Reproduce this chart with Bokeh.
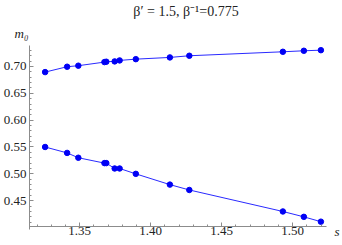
from bokeh.plotting import figure
from bokeh.models import FixedTicker, Range1d, PrintfTickFormatter, Title
from bokeh.core.properties import value
from bokeh.embed import file_html
from bokeh.resources import INLINE

# ---- data ----
s_values = [1.3256, 1.3411, 1.3490, 1.3674, 1.3687, 1.3746, 1.3781,
            1.3895, 1.4135, 1.4272, 1.4931, 1.5079, 1.5199]
m0_upper = [0.6894, 0.6994, 0.7013, 0.7080, 0.7087, 0.7093, 0.7111,
            0.7135, 0.7167, 0.7198, 0.7272, 0.7291, 0.7302]
m0_lower = [0.550, 0.539, 0.530, 0.520, 0.520, 0.510, 0.510,
            0.500, 0.480, 0.470, 0.430, 0.420, 0.411]

x_major = [1.35, 1.40, 1.45, 1.50]
x_minor = [1.32, 1.33, 1.34, 1.36, 1.37, 1.38, 1.39, 1.41, 1.42, 1.43,
           1.44, 1.46, 1.47, 1.48, 1.49, 1.51, 1.52]
y_major = [0.45, 0.50, 0.55, 0.60, 0.65, 0.70]
y_minor = [0.41, 0.42, 0.43, 0.44, 0.46, 0.47, 0.48, 0.49, 0.51, 0.52,
           0.53, 0.54, 0.56, 0.57, 0.58, 0.59, 0.61, 0.62, 0.63, 0.64,
           0.66, 0.67, 0.68, 0.69, 0.71, 0.72, 0.73, 0.74]

title_text = "β′ = 1.5, β⁻¹=0.775"
y_label = "m₀"
x_label = "s"

# ---- layout (pixel geometry only) ----
W, H = 342, 245
BL, BR, BT, BB = 26, 0, 44, 0
XS = 1433.0            # px per unit of s
YS = 540.0             # px per unit of m0
x0 = 1.3146                          # left frame edge (y axis position)
x1 = x0 + (W - BL - BR) / XS
x_axis_end = 1.5239
y1 = 0.7389                          # top frame edge
y_axis = 0.4024                      # where the s axis sits
y0 = y1 - (H - BT - BB) / YS

FONT = "Liberation Serif"

p = figure(width=W, height=H, output_backend="svg", toolbar_location=None,
           x_range=Range1d(x0, x1), y_range=Range1d(y0, y1),
           min_border_left=BL, min_border_right=BR,
           min_border_top=BT, min_border_bottom=BB)
p.outline_line_color = None
p.xgrid.visible = False
p.ygrid.visible = False
p.background_fill_color = "white"
p.border_fill_color = "white"

# main title and m0 label stacked in the panel above the frame
p.title.text = title_text
p.title.align = "center"
p.title.offset = -13
p.title.text_font = FONT
p.title.text_font_size = "14px"
p.title.text_font_style = "normal"
p.title.text_color = "#222222"
p.title.standoff = 2
p.add_layout(Title(text=y_label, align="left", offset=-15, text_font=FONT,
                   text_font_size="13px", text_font_style="italic",
                   text_color="#222222", standoff=9), "above")

for ax, maj, mnr in ((p.xaxis[0], x_major, x_minor), (p.yaxis[0], y_major, y_minor)):
    ax.ticker = FixedTicker(ticks=maj, minor_ticks=mnr)
    ax.formatter = PrintfTickFormatter(format="%.2f")
    ax.axis_label = None
    ax.axis_label_standoff = 0
    ax.axis_line_color = "#8c8c8c"
    ax.major_tick_line_color = "#8c8c8c"
    ax.minor_tick_line_color = "#8c8c8c"
    ax.major_tick_in = 4
    ax.major_tick_out = 0
    ax.minor_tick_in = 2
    ax.minor_tick_out = 0
    ax.major_label_text_font = FONT
    ax.major_label_text_font_size = "13px"
    ax.major_label_text_color = "#222222"
xa = p.xaxis[0]
xa.major_label_standoff = 1
xa.fixed_location = y_axis
xa.bounds = (x0, x_axis_end)
ya = p.yaxis[0]
ya.major_label_standoff = 3
ya.bounds = (y_axis - 3 / YS, y1)

blue_line = "#2a2aff"
blue_pt = "#0000f5"
p.line(s_values, m0_upper, line_color=blue_line, line_width=1)
p.line(s_values, m0_lower, line_color=blue_line, line_width=1)
p.scatter(s_values, m0_upper, size=5.5, fill_color=blue_pt, line_color=blue_pt)
p.scatter(s_values, m0_lower, size=5.5, fill_color=blue_pt, line_color=blue_pt)

# x label (s) just past the right end of the horizontal axis
p.text(x=[x_axis_end + 8 / XS], y=[y_axis - 5 / YS], text=[x_label],
       text_align="left", text_baseline="alphabetic",
       text_font=value(FONT), text_font_style="italic",
       text_font_size="13px", text_color="#222222")

open("out.html", "w").write(file_html(p, INLINE))
